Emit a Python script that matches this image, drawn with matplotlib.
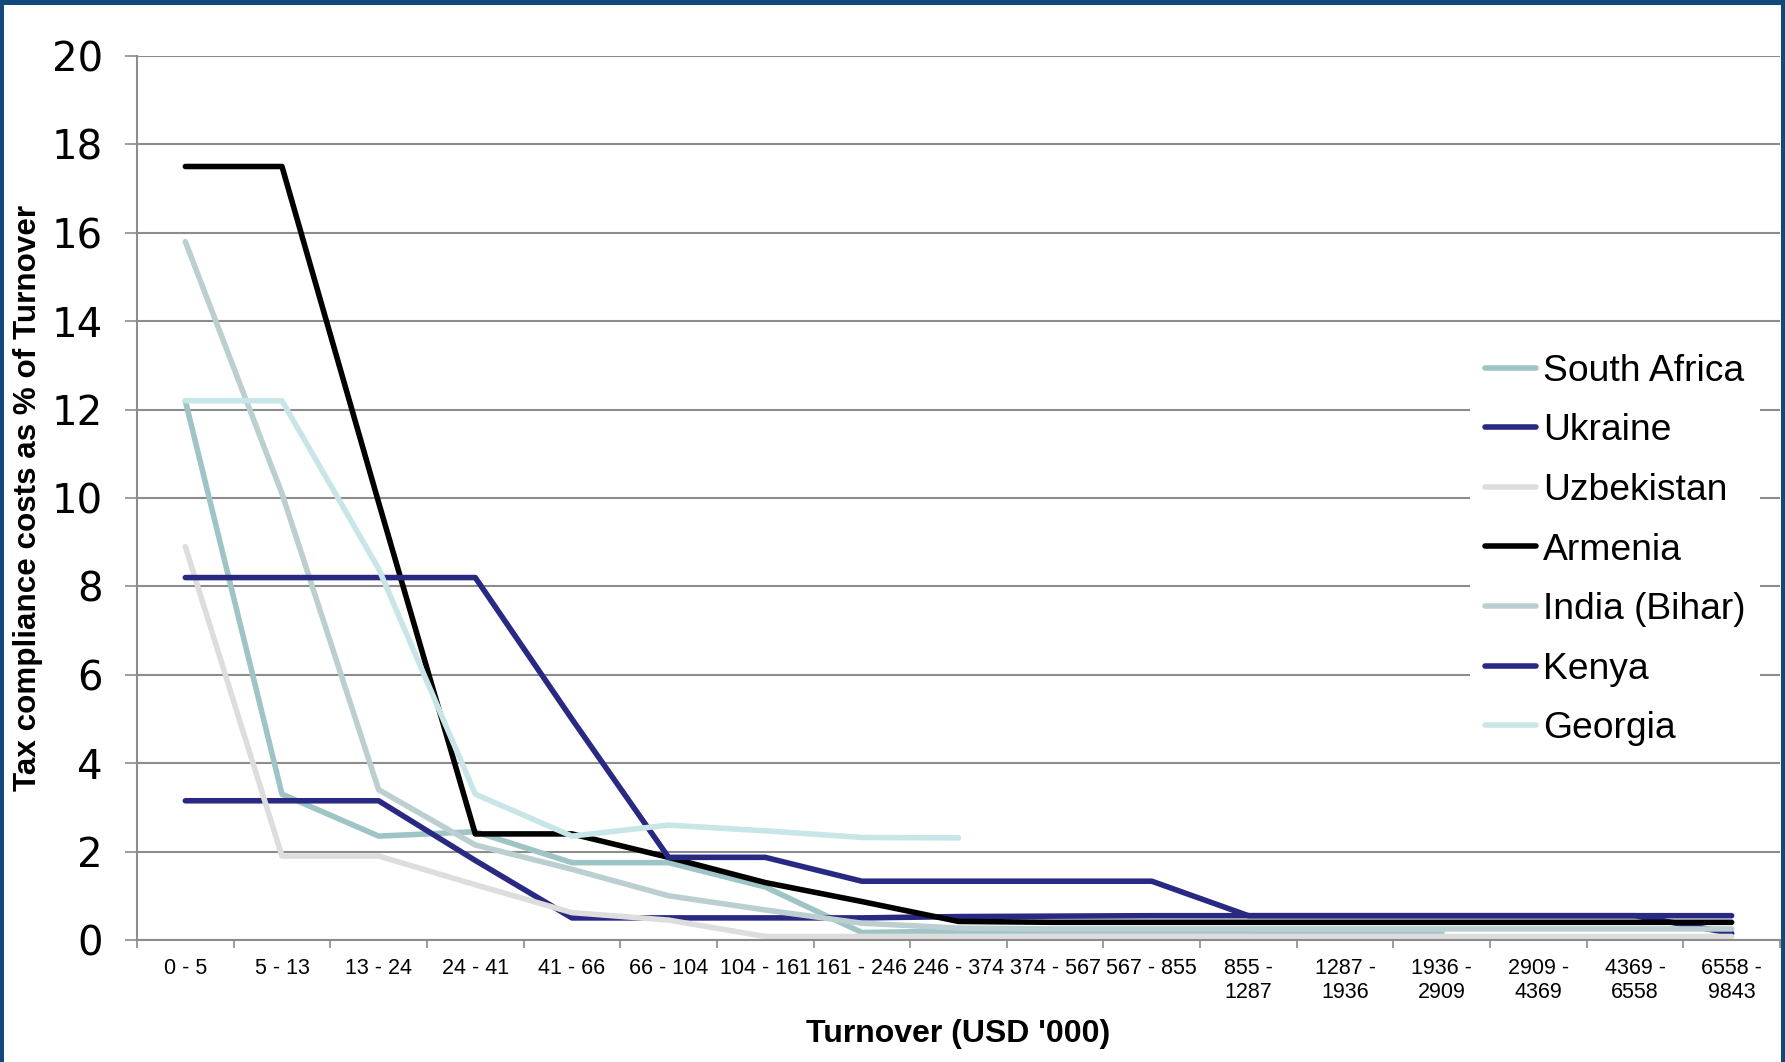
"""Tax compliance costs as a share of turnover, by turnover band and country."""

import matplotlib

matplotlib.use("Agg")
import matplotlib.pyplot as plt
import numpy as np
from matplotlib.patches import Rectangle

nan = np.nan

categories = [
    "0 - 5", "5 - 13", "13 - 24", "24 - 41", "41 - 66", "66 - 104",
    "104 - 161", "161 - 246", "246 - 374", "374 - 567", "567 - 855",
    "855 -\n1287", "1287 -\n1936", "1936 -\n2909", "2909 -\n4369",
    "4369 -\n6558", "6558 -\n9843",
]

south_africa = [12.2, 3.3, 2.35, 2.45, 1.75, 1.75, 1.2, 0.17, 0.2, 0.2, 0.2, 0.2, 0.18, 0.17, nan, nan, nan]
ukraine = [3.15, 3.15, 3.15, 1.8, 0.5, 0.5, 0.5, 0.5, 0.53, 0.54, 0.55, 0.55, 0.55, 0.55, 0.55, 0.55, 0.15]
uzbekistan = [8.9, 1.9, 1.9, 1.25, 0.62, 0.45, 0.08, 0.08, 0.08, 0.08, 0.08, 0.08, 0.08, 0.08, 0.08, 0.08, 0.08]
armenia = [17.5, 17.5, 9.9, 2.4, 2.4, 1.87, 1.3, 0.87, 0.42, 0.4, 0.4, 0.4, 0.4, 0.4, 0.4, 0.4, 0.4]
india = [15.8, 10.1, 3.4, 2.15, 1.6, 1.0, 0.68, 0.38, 0.27, 0.25, 0.25, 0.25, 0.25, 0.25, 0.25, 0.25, 0.25]
kenya = [8.2, 8.2, 8.2, 8.2, 5.0, 1.87, 1.87, 1.33, 1.33, 1.33, 1.33, 0.55, 0.55, 0.55, 0.55, 0.55, 0.55]
georgia = [12.2, 12.2, 8.4, 3.3, 2.35, 2.6, 2.47, 2.32, 2.31, nan, nan, nan, nan, nan, nan, nan, nan]

series = [
    ("South Africa", south_africa, "#9fc4c6"),
    ("Ukraine", ukraine, "#292883"),
    ("Uzbekistan", uzbekistan, "#dddddd"),
    ("Armenia", armenia, "#000000"),
    ("India (Bihar)", india, "#bccfd0"),
    ("Kenya", kenya, "#292883"),
    ("Georgia", georgia, "#c8e5e8"),
]

GRID = "#8c8c8c"
BORDER = "#12497c"

fig = plt.figure(figsize=(17.85, 10.62), dpi=100)
fig.patch.set_facecolor("white")
ax = fig.add_axes([137 / 1785, 1 - 940 / 1062, (1780 - 137) / 1785, (940 - 56) / 1062])

x = np.arange(len(categories))
for name, values, color in series:
    ax.plot(x, values, color=color, lw=4.0, label=name,
            solid_capstyle="round", solid_joinstyle="round")

ax.set_xlim(-0.5, len(categories) - 0.5)
ax.set_ylim(0, 20)
ax.set_yticks(np.arange(0, 21, 2))
ax.grid(axis="y", color=GRID, lw=1.5)
ax.set_axisbelow(True)

for side in ("top", "right"):
    ax.spines[side].set_visible(False)
for side in ("left", "bottom"):
    ax.spines[side].set_color(GRID)
    ax.spines[side].set_linewidth(1.5)

ax.set_xticks(x)
ax.set_xticklabels(categories, fontsize=15.5, family="Liberation Sans", linespacing=1.2)
ax.set_xticks(np.arange(-0.5, len(categories), 1), minor=True)
ax.tick_params(axis="x", which="major", length=0, pad=13)
ax.tick_params(axis="x", which="minor", length=6, width=1.2, color=GRID, direction="out")
ax.tick_params(axis="y", length=9, width=1.2, color=GRID, pad=15.5, labelsize=29)
for label in ax.get_yticklabels():
    label.set_family("DejaVu Sans")

ax.set_ylabel("Tax compliance costs as % of Turnover", fontsize=22.6, fontweight="bold",
              family="Liberation Sans")
ax.yaxis.set_label_coords(-0.057, 0.5)
ax.set_xlabel("Turnover (USD '000)", fontsize=23, fontweight="bold", family="Liberation Sans")
ax.xaxis.set_label_coords(0.5, -0.089)

legend = ax.legend(
    loc="center left", bbox_to_anchor=(1470 / 1785, 1 - 550 / 1062),
    bbox_transform=fig.transFigure, frameon=True, fancybox=False,
    prop={"family": "Liberation Sans", "size": 26.8}, handlelength=1.38,
    handletextpad=0.18, labelspacing=0.66, borderpad=0.4, borderaxespad=0,
)
legend.get_frame().set_edgecolor("none")
legend.get_frame().set_facecolor("white")
legend.get_frame().set_alpha(1)

# dark blue frame along the top, left and right edges
for rect in ((0, 1 - 5 / 1062, 1, 5 / 1062), (0, 0, 4 / 1785, 1), (1 - 4 / 1785, 0, 4 / 1785, 1)):
    fig.add_artist(Rectangle(rect[:2], rect[2], rect[3], transform=fig.transFigure,
                             facecolor=BORDER, edgecolor="none", zorder=10))

fig.savefig("out.png", dpi=100)
